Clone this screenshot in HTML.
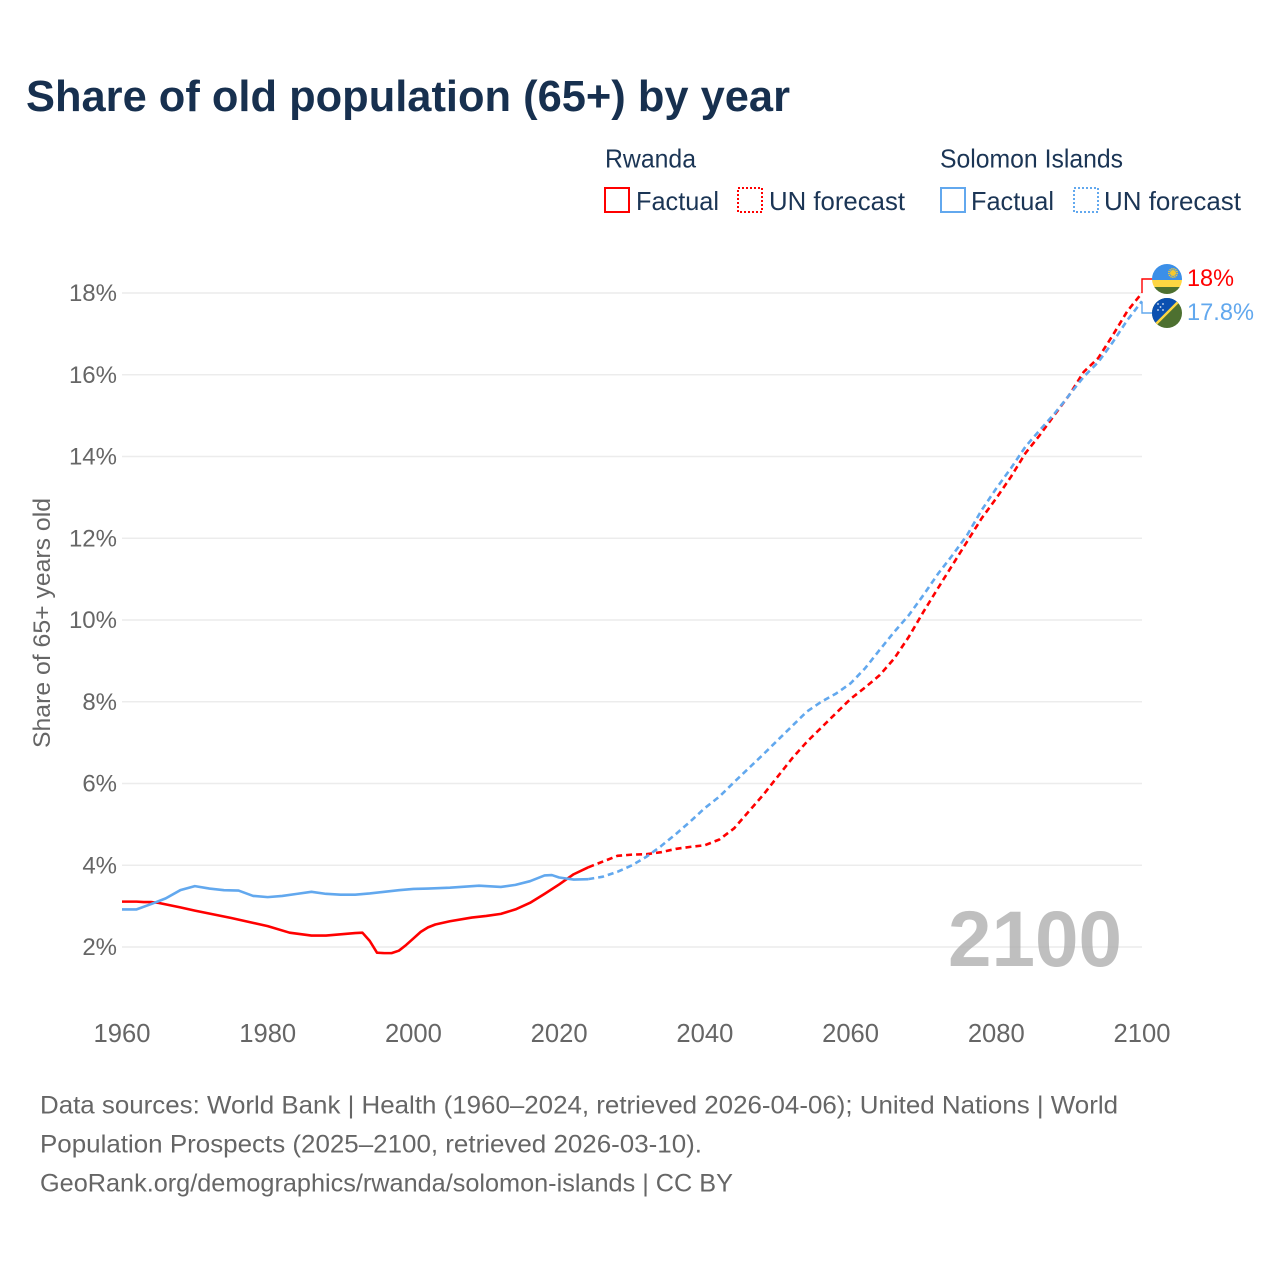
<!DOCTYPE html>
<html lang="en">
<head>
<meta charset="utf-8">
<title>Share of old population (65+) by year</title>
<style>
html,body{margin:0;padding:0;background:#fff;width:1280px;height:1280px;overflow:hidden}
svg{display:block}
text{font-family:"Liberation Sans",sans-serif}
</style>
</head>
<body>
<svg id="chart" width="1280" height="1280" viewBox="0 0 1280 1280" xmlns="http://www.w3.org/2000/svg">
  <defs>
    <clipPath id="clip-rw"><circle cx="1167" cy="279" r="15"/></clipPath>
    <clipPath id="clip-sb"><circle cx="1167" cy="313" r="15"/></clipPath>
  </defs>
  <rect width="1280" height="1280" fill="#fff"/>
  <text x="26" y="111" font-size="44" font-weight="700" fill="#17304f" textLength="764" lengthAdjust="spacingAndGlyphs">Share of old population (65+) by year</text>

  <g font-size="26" fill="#1b3555">
    <text x="605" y="167.500" textLength="91" lengthAdjust="spacingAndGlyphs">Rwanda</text>
    <text x="940" y="167.500" textLength="183" lengthAdjust="spacingAndGlyphs">Solomon Islands</text>
    <rect x="605" y="188" width="24" height="24" fill="none" stroke="#ff0000" stroke-width="2"/>
    <text x="636" y="210" textLength="83" lengthAdjust="spacingAndGlyphs">Factual</text>
    <rect x="738" y="188" width="24" height="24" fill="none" stroke="#ff0000" stroke-width="2" stroke-dasharray="2 2"/>
    <text x="769" y="210" textLength="136" lengthAdjust="spacingAndGlyphs">UN forecast</text>
    <rect x="941" y="188" width="24" height="24" fill="none" stroke="#62a8ee" stroke-width="2"/>
    <text x="971" y="210" textLength="83" lengthAdjust="spacingAndGlyphs">Factual</text>
    <rect x="1074" y="188" width="24" height="24" fill="none" stroke="#62a8ee" stroke-width="2" stroke-dasharray="2 2"/>
    <text x="1104" y="210" textLength="137" lengthAdjust="spacingAndGlyphs">UN forecast</text>
  </g>

  <g id="grid"></g>
  <g id="y-ticks"></g>
  <g id="x-ticks"></g>
  <text transform="translate(50,748) rotate(-90)" font-size="24" fill="#666" textLength="250" lengthAdjust="spacingAndGlyphs">Share of 65+ years old</text>

  <text x="948" y="966" font-size="79" font-weight="700" fill="#a9a9a9" fill-opacity="0.75" textLength="174" lengthAdjust="spacingAndGlyphs">2100</text>

  <g id="series"></g>

  <polyline points="1155,279 1142,279 1142,293" fill="none" stroke="#ff0000" stroke-width="1.400"/>
  <polyline points="1142,302 1142,313 1155,313" fill="none" stroke="#62a8ee" stroke-width="1.400"/>

  <g clip-path="url(#clip-rw)">
    <rect x="1152" y="264" width="30" height="16" fill="#3b8fe8"/>
    <rect x="1152" y="280" width="30" height="7" fill="#fdd642"/>
    <rect x="1152" y="287" width="30" height="8" fill="#4d7030"/>
    <circle cx="1173" cy="273" r="3" fill="#f5c92e"/>
    <circle cx="1173" cy="273" r="4.200" fill="none" stroke="#f5c92e" stroke-width="1.600" stroke-dasharray="1.200 0.800"/>
  </g>
  <g clip-path="url(#clip-sb)">
    <rect x="1152" y="298" width="30" height="30" fill="#4d7030"/>
    <polygon points="1152,298 1182,298 1152,328" fill="#0b50b0"/>
    <line x1="1152" y1="328" x2="1182" y2="298" stroke="#fdd642" stroke-width="2.400"/>
    <g fill="#dfe8f5">
      <circle cx="1158" cy="310" r="0.900"/><circle cx="1163" cy="310" r="0.900"/>
      <circle cx="1160.500" cy="307" r="0.900"/><circle cx="1158" cy="304" r="0.900"/><circle cx="1163" cy="304" r="0.900"/>
    </g>
  </g>

  <text id="end-label-rw" x="1187" y="286" font-size="24.500" fill="#ff0000" textLength="47" lengthAdjust="spacingAndGlyphs">18%</text>
  <text id="end-label-sb" x="1187" y="320" font-size="24.500" fill="#62a8ee" textLength="67" lengthAdjust="spacingAndGlyphs">17.8%</text>

  <g font-size="25" fill="#666">
    <text x="40" y="1113.500" textLength="1078" lengthAdjust="spacingAndGlyphs">Data sources: World Bank | Health (1960–2024, retrieved 2026-04-06); United Nations | World</text>
    <text x="40" y="1152.500" textLength="662" lengthAdjust="spacingAndGlyphs">Population Prospects (2025–2100, retrieved 2026-03-10).</text>
    <text x="40" y="1191.500" textLength="693" lengthAdjust="spacingAndGlyphs">GeoRank.org/demographics/rwanda/solomon-islands | CC BY</text>
  </g>
</svg>
<script>
const yTickValues = [2, 4, 6, 8, 10, 12, 14, 16, 18];
const xTickValues = [1960, 1980, 2000, 2020, 2040, 2060, 2080, 2100];

const rwandaFactualYears = [1960,1962,1963,1964,1965,1968,1970,1975,1980,1983,1986,1988,1990,1992,1993,1994,1995,1996,1997,1998,1999,2000,2001,2002,2003,2005,2008,2010,2012,2014,2016,2018,2020,2022,2024];
const rwandaFactualValues = [3.11,3.11,3.10,3.10,3.08,2.97,2.89,2.71,2.51,2.35,2.28,2.28,2.31,2.34,2.35,2.15,1.86,1.85,1.85,1.91,2.05,2.21,2.37,2.48,2.55,2.63,2.72,2.76,2.81,2.92,3.08,3.30,3.53,3.78,3.95];

const rwandaForecastYears = [2024,2026,2028,2030,2032,2034,2036,2038,2040,2042,2044,2046,2048,2050,2052,2054,2056,2058,2060,2062,2064,2066,2068,2070,2072,2074,2076,2078,2080,2082,2084,2086,2088,2090,2092,2094,2096,2098,2100];
const rwandaForecastValues = [3.95,4.09,4.23,4.26,4.27,4.32,4.40,4.45,4.49,4.63,4.90,5.31,5.72,6.17,6.62,7.02,7.37,7.72,8.07,8.35,8.65,9.06,9.59,10.20,10.78,11.35,11.92,12.49,12.98,13.50,14.08,14.53,15.02,15.50,16.07,16.41,16.97,17.56,18.00];

const solomonFactualYears = [1960,1962,1964,1966,1968,1970,1972,1974,1976,1978,1980,1982,1984,1986,1988,1990,1992,1994,1996,1998,2000,2002,2005,2009,2012,2014,2016,2018,2019,2020,2022,2024];
const solomonFactualValues = [2.92,2.92,3.05,3.19,3.39,3.49,3.43,3.39,3.38,3.25,3.22,3.25,3.30,3.35,3.30,3.28,3.28,3.31,3.35,3.39,3.42,3.43,3.45,3.50,3.47,3.52,3.61,3.75,3.76,3.70,3.65,3.66];

const solomonForecastYears = [2024,2026,2028,2030,2032,2034,2036,2038,2040,2042,2044,2046,2048,2050,2052,2054,2056,2058,2060,2062,2064,2066,2068,2070,2072,2074,2076,2078,2080,2082,2084,2086,2088,2090,2092,2094,2096,2098,2100];
const solomonForecastValues = [3.66,3.72,3.84,4.00,4.21,4.47,4.76,5.07,5.40,5.68,6.03,6.37,6.71,7.06,7.41,7.76,8.00,8.20,8.45,8.82,9.27,9.71,10.12,10.61,11.13,11.59,12.08,12.69,13.22,13.71,14.24,14.65,15.05,15.50,15.95,16.31,16.80,17.34,17.80];

const NS = 'http://www.w3.org/2000/svg';
function xScale(year) { return 122 + (year - 1960) * (1142 - 122) / 140; }
function yScale(v) { return 947 - (v - 2) * (947 - 293) / 16; }

const gridGroup = document.getElementById('grid');
const yTickGroup = document.getElementById('y-ticks');
const xTickGroup = document.getElementById('x-ticks');
const seriesGroup = document.getElementById('series');

yTickValues.forEach(function (v) {
  const line = document.createElementNS(NS, 'line');
  
  
  line.setAttribute('x1', 122);
  line.setAttribute('x2', 1142);
  line.setAttribute('y1', yScale(v));
  line.setAttribute('y2', yScale(v));
  line.setAttribute('stroke', '#ececec');
  line.setAttribute('stroke-width', 1.5);
  gridGroup.appendChild(line);

  const label = document.createElementNS(NS, 'text');
  
  
  label.setAttribute('x', 117);
  label.setAttribute('y', yScale(v) + 8.200);
  label.setAttribute('text-anchor', 'end');
  label.setAttribute('font-size', 24);
  label.setAttribute('fill', '#666');
  label.textContent = v + '%';
  yTickGroup.appendChild(label);
});

xTickValues.forEach(function (year) {
  const label = document.createElementNS(NS, 'text');
  
  
  label.setAttribute('x', xScale(year));
  label.setAttribute('y', 1042);
  label.setAttribute('text-anchor', 'middle');
  label.setAttribute('font-size', 25.600);
  label.setAttribute('fill', '#666');
  label.textContent = year;
  xTickGroup.appendChild(label);
});

function drawSeries(name, years, values, color, dash) {
  const path = document.createElementNS(NS, 'path');
  
  
  let d = '';
  years.forEach(function (year, i) {
    d += (i === 0 ? 'M' : 'L') + xScale(year).toFixed(2) + ' ' + yScale(values[i]).toFixed(2);
  });
  path.setAttribute('d', d);
  path.setAttribute('fill', 'none');
  path.setAttribute('stroke', color);
  path.setAttribute('stroke-width', 2.600);
  path.setAttribute('stroke-linejoin', 'round');
  if (dash) path.setAttribute('stroke-dasharray', dash);
  seriesGroup.appendChild(path);
}

drawSeries('line-rwanda-forecast', rwandaForecastYears, rwandaForecastValues, '#ff0000', '6 4');
drawSeries('line-solomon-forecast', solomonForecastYears, solomonForecastValues, '#62a8ee', '6 4');
drawSeries('line-rwanda-factual', rwandaFactualYears, rwandaFactualValues, '#ff0000', '');
drawSeries('line-solomon-factual', solomonFactualYears, solomonFactualValues, '#62a8ee', '');
</script>
</body>
</html>
